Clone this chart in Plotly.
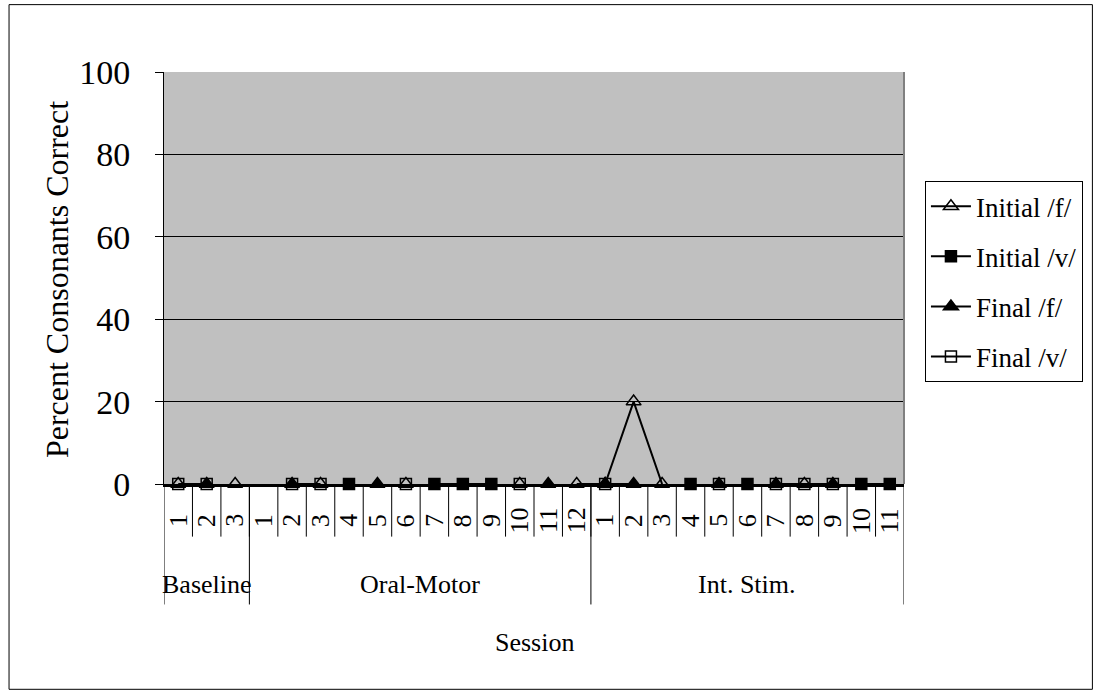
import plotly.graph_objects as go

# Session labels within each treatment phase
phase_names = ["Baseline", "Oral-Motor", "Int. Stim."]
phase_sessions = [
    ["1", "2", "3"],
    ["1", "2", "3", "4", "5", "6", "7", "8", "9", "10", "11", "12"],
    ["1", "2", "3", "4", "5", "6", "7", "8", "9", "10", "11"],
]

# Percent consonants correct per probe (None = not probed that session)
initial_f = [0, None, 0,
             None, None, 0, None, None, 0, None, None, None, 0, None, 0,
             0, 20, 0, None, None, None, None, 0, None, None, None]
initial_v = [None, None, None,
             None, None, None, 0, None, None, 0, 0, 0, None, None, None,
             None, None, None, 0, None, 0, None, None, None, 0, 0]
final_f = [None, 0, None,
           None, 0, None, None, 0, None, None, None, None, None, 0, None,
           0, 0, None, None, 0, None, 0, None, 0, None, None]
final_v = [0, 0, None,
           None, 0, 0, None, None, 0, None, None, None, 0, None, None,
           0, None, None, None, 0, None, 0, 0, 0, None, None]

series = [
    ("Initial /f/", initial_f, "triangle-up-open", 13),
    ("Initial /v/", initial_v, "square", 11),
    ("Final /f/", final_f, "triangle-up", 13),
    ("Final /v/", final_v, "square-open", 11),
]

FONT = "Liberation Serif, Times New Roman, serif"

tick_labels = [s for group in phase_sessions for s in group]
xs = list(range(len(tick_labels)))

fig = go.Figure()
for name, vals, symbol, size in series:
    fig.add_trace(go.Scatter(
        x=xs, y=vals, name=name, legendgroup=name,
        mode="lines+markers", connectgaps=False, cliponaxis=False,
        line=dict(color="black", width=2),
        marker=dict(symbol=symbol, size=size, color="black",
                    line=dict(color="black", width=1.5)),
    ))

annotations = []
shapes = []
# session numbers, rotated, under each category, with separators between
for x, lab in zip(xs, tick_labels):
    annotations.append(dict(
        x=x, xref="x", y=-0.089, yref="paper", text=lab, showarrow=False,
        textangle=-90, xanchor="center", yanchor="middle",
        font=dict(family=FONT, size=26, color="black")))
for x in xs[:-1]:
    shapes.append(dict(type="line", xref="x", yref="paper", x0=x + 0.5,
                       x1=x + 0.5, y0=0, y1=-0.1277,
                       line=dict(color="black", width=1)))

# phase labels and divider lines between phases
start = 0
bounds = [-0.5]
for name, sess in zip(phase_names, phase_sessions):
    end = start + len(sess)
    annotations.append(dict(
        x=(start + end - 1) / 2, xref="x", y=-0.244, yref="paper",
        text=name, showarrow=False, xanchor="center", yanchor="middle",
        font=dict(family=FONT, size=26, color="black")))
    bounds.append(end - 0.5)
    start = end
for b in bounds:
    shapes.append(dict(type="line", xref="x", yref="paper", x0=b, x1=b,
                       y0=0, y1=-0.2924, line=dict(color="black", width=1)))

# right edge of plot area
shapes.append(dict(type="line", xref="paper", yref="paper", x0=1, x1=1,
                   y0=0, y1=1, line=dict(color="#808080", width=2)))
# chart frame
shapes.append(dict(type="rect", xref="paper", yref="paper",
                   x0=-0.2094, x1=1.2546, y0=-0.4983, y1=1.1635,
                   line=dict(color="black", width=1), layer="below"))

annotations.append(dict(
    x=0.5, xref="paper", y=-0.384, yref="paper", text="Session",
    showarrow=False, xanchor="center", yanchor="middle",
    font=dict(family=FONT, size=26, color="black")))
annotations.append(dict(
    x=-0.1448, xref="paper", y=0.497, yref="paper",
    text="Percent Consonants Correct", showarrow=False, textangle=-90,
    xanchor="center", yanchor="middle",
    font=dict(family=FONT, size=32, color="black")))

fig.update_layout(
    width=1095, height=694,
    margin=dict(l=163.5, r=189, t=71.5, b=209.7),
    paper_bgcolor="white", plot_bgcolor="#C0C0C0",
    font=dict(family=FONT, color="black"),
    showlegend=True,
    legend=dict(x=1.0283, y=0.735, xanchor="left", yanchor="top",
                bgcolor="white", bordercolor="black", borderwidth=1,
                font=dict(family=FONT, size=27, color="black"),
                tracegroupgap=12, itemwidth=40,
                entrywidth=170, entrywidthmode="pixels"),
    annotations=annotations, shapes=shapes,
)
fig.update_xaxes(
    range=[-0.5, len(xs) - 0.5], showticklabels=False, ticks="",
    showgrid=False, zeroline=False,
    showline=True, linecolor="black", linewidth=3,
)
fig.update_yaxes(
    range=[0, 100], tickmode="linear", tick0=0, dtick=20,
    showgrid=True, gridcolor="black", gridwidth=1, zeroline=False,
    showline=True, linecolor="black", linewidth=1,
    ticks="outside", ticklen=8, tickcolor="black",
    ticklabelstandoff=18,
    tickfont=dict(family=FONT, size=34, color="black"),
)

fig.write_html("out.html")
